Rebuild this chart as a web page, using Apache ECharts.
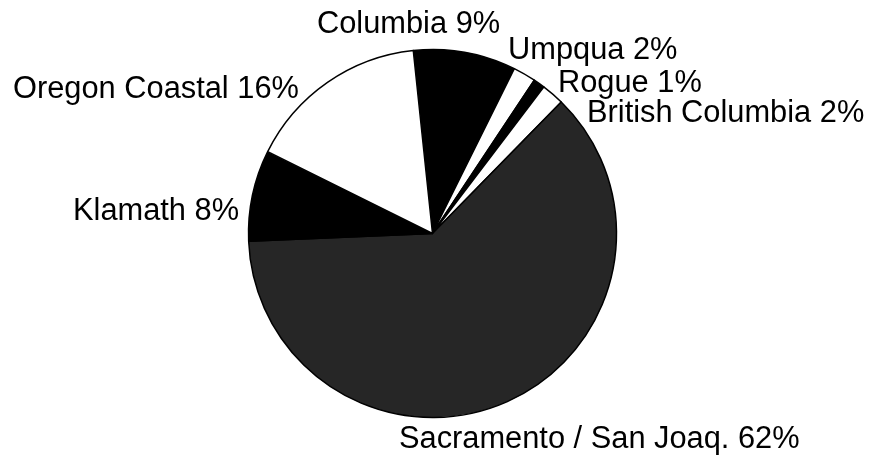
<!DOCTYPE html>
<html>
<head>
<meta charset="utf-8">
<script src="https://cdn.jsdelivr.net/npm/echarts@6/dist/echarts.min.js"></script>
<style>
html,body{margin:0;padding:0;background:#fff;}
#c{width:878px;height:460px;}
</style>
</head>
<body>
<div id="c"></div>
<script>
const categories = ['Columbia', 'Umpqua', 'Rogue', 'British Columbia', 'Sacramento / San Joaq.', 'Klamath', 'Oregon Coastal'];
const values = [9, 2, 1, 2, 62, 8, 16];
const sliceColors = ['#000000', '#ffffff', '#000000', '#ffffff', '#262626', '#000000', '#ffffff'];
// label anchor (left x, middle y) for each label
const labelPos = [[317, 25], [508, 51], [558, 84], [587, 114], [399, 440], [73, 212], [13, 90]];

const chart = echarts.init(document.getElementById('c'), null, {renderer: 'canvas'});
chart.setOption({
  backgroundColor: '#ffffff',
  animation: false,
  series: [{
    type: 'pie',
    center: [432.5, 233.5],
    radius: 184,
    startAngle: 96,
    clockwise: true,
    avoidLabelOverlap: false,
    data: categories.map((c, i) => ({
      name: c,
      value: values[i],
      itemStyle: {color: sliceColors[i]}
    })),
    itemStyle: {borderColor: '#000', borderWidth: 1.5},
    label: {
      show: true,
      position: 'outside',
      formatter: p => p.name + ' ' + p.value + '%',
      fontFamily: '"Liberation Sans", Arial, sans-serif',
      fontSize: 30.8,
      color: '#000'
    },
    labelLine: {show: false},
    labelLayout: function (params) {
      const p = labelPos[params.dataIndex];
      return {x: p[0], y: p[1], align: 'left', verticalAlign: 'middle'};
    },
    emphasis: {disabled: true}
  }]
});
</script>
</body>
</html>
